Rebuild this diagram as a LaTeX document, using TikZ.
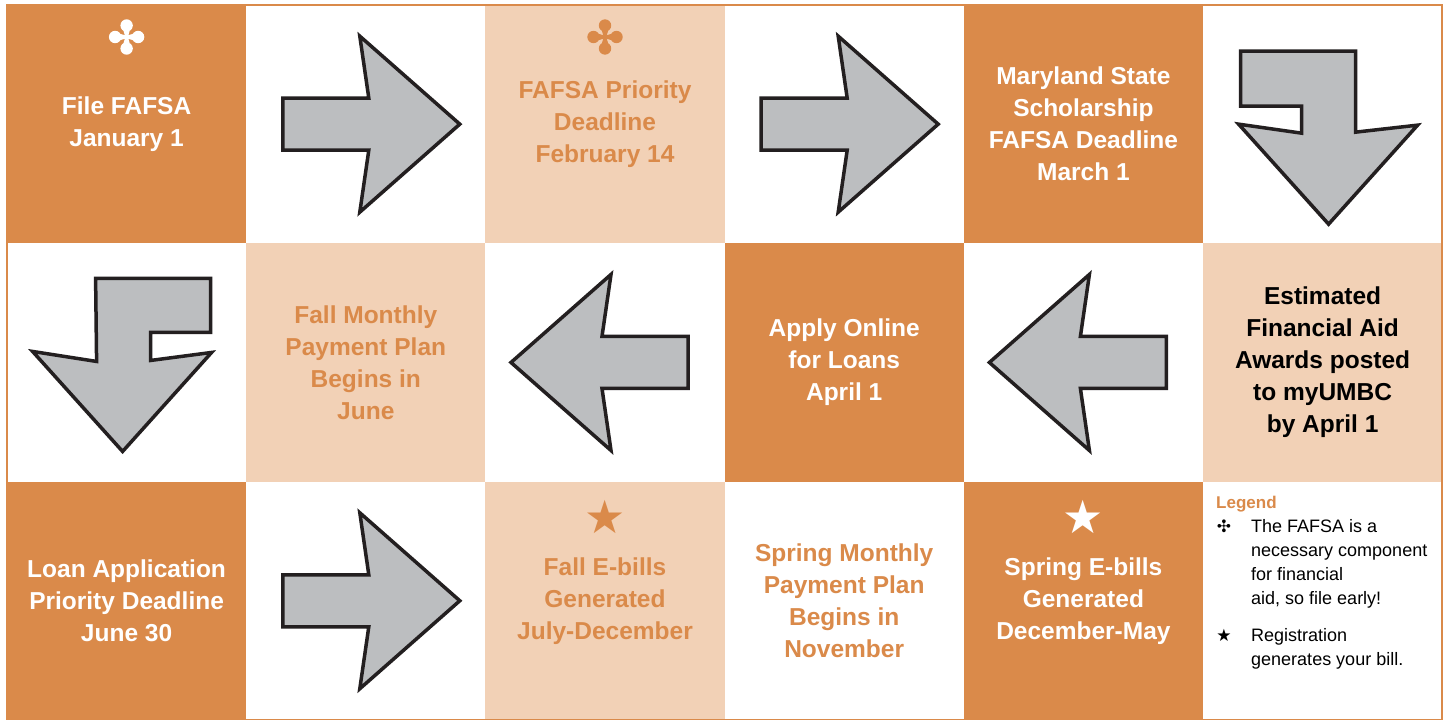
\documentclass[tikz,border=0pt]{standalone}
\usepackage{fontspec}
\setmainfont{Liberation Sans}
\newfontfamily\symfont{DejaVu Sans}
\usepackage{xcolor}
\usetikzlibrary{positioning}
\definecolor{umbcorange}{HTML}{DA8A4A}
\definecolor{umbcpeach}{HTML}{F2D1B6}
\definecolor{arrowgray}{HTML}{BCBEC0}
\definecolor{arrowline}{HTML}{231F20}
\tikzset{
  cell/.style={inner sep=0pt, outer sep=0pt, minimum width=239.2pt, minimum height=238.3pt, align=center, font=\fontsize{24.5}{32}\selectfont\bfseries},
  darkcell/.style={cell, fill=umbcorange, text=white},
  lightcell/.style={cell, fill=umbcpeach, text=umbcorange},
  blankcell/.style={cell, fill=white},
  icon/.style={font=\symfont\fontsize{46}{46}\selectfont, inner sep=0pt},
  blockarrow/.style={draw=arrowline, fill=arrowgray, line width=3.5pt, line join=miter},
  frame/.style={draw=umbcorange, line width=1.5pt},
  legendhead/.style={font=\fontsize{17}{20}\selectfont\bfseries, text=umbcorange, inner sep=0pt},
  legendtext/.style={font=\fontsize{18}{24}\selectfont, align=left, inner sep=0pt},
  legendmark/.style={font=\symfont\fontsize{17}{17}\selectfont, inner sep=0pt},
  clover/.pic={\foreach \a in {0,90,180,270}
      \fill[rotate=\a] (0,-1.3) -- (10,-4.2) -- (10,4.2) -- (0,1.3) -- cycle (11.5,0) circle (6.2);},
  goright/.pic={\path[blockarrow] (-83,-26) -- (3,-26) -- (-6,-88) -- (94,0) -- (-6,88) -- (3,26) -- (-83,26) -- cycle;},
  goleft/.pic={\path[blockarrow] (83,-26) -- (-3,-26) -- (6,-88) -- (-94,0) -- (6,88) -- (-3,26) -- (83,26) -- cycle;},
  turndown/.pic={\path[blockarrow] (-82,-73) -- (33,-73) -- (33,8) -- (95,1) -- (6,100) -- (-84,0) -- (-21,9) -- (-21,-18) -- (-82,-18) -- cycle;},
  dropdown/.pic={\path[blockarrow] (-31,-84) -- (84,-84) -- (84,-30) -- (24,-30) -- (24,-2) -- (85,-10) -- (-4,89) -- (-94,-11) -- (-30,-1) -- cycle;}
}

\begin{document}
\begin{tikzpicture}[x=1pt, y=-1pt, node distance=0pt]
    \useasboundingbox (0,0) rectangle (1444,720);
    % top row
    \node[darkcell, anchor=north west] (fafsa) at (7,5) {File FAFSA\\January 1};
    \node[blankcell, right=of fafsa] (go1) {};
    \node[lightcell, right=of go1] (priority) {FAFSA Priority\\Deadline\\February 14};
    \node[blankcell, right=of priority] (go2) {};
    \node[darkcell, right=of go2] (maryland) {Maryland State\\Scholarship\\FAFSA Deadline\\March 1};
    \node[blankcell, right=of maryland] (go3) {};
    % middle row, read right to left
    \node[blankcell, below=of fafsa] (go4) {};
    \node[lightcell, right=of go4] (fallplan) {Fall Monthly\\Payment Plan\\Begins in\\June};
    \node[blankcell, right=of fallplan] (go5) {};
    \node[darkcell, right=of go5] (loans) {Apply Online\\for Loans\\April 1};
    \node[blankcell, right=of loans] (go6) {};
    \node[lightcell, text=black, right=of go6] (awards) {Estimated\\Financial Aid\\Awards posted\\to myUMBC\\by April 1};
    % bottom row
    \node[darkcell, below=of go4] (loanapp) {Loan Application\\Priority Deadline\\June 30};
    \node[blankcell, right=of loanapp] (go7) {};
    \node[lightcell, right=of go7] (fallbills) {Fall E-bills\\Generated\\July-December};
    \node[blankcell, text=umbcorange, right=of fallbills] (springplan) {Spring Monthly\\Payment Plan\\Begins in\\November};
    \node[darkcell, right=of springplan] (springbills) {Spring E-bills\\Generated\\December-May};
    \node[blankcell, right=of springbills] (legendcell) {};

    \draw[frame] (fafsa.north west) rectangle (legendcell.south east);

    \pic at (go1.center) {goright};
    \pic at (go2.center) {goright};
    \pic at (go3.center) {turndown};
    \pic at (go6.center) {goleft};
    \pic at (go5.center) {goleft};
    \pic at (go4.center) {dropdown};
    \pic at (go7.center) {goright};

    \pic[white] (clover1) at ([yshift=-32pt]fafsa.north) {clover};
    \pic[umbcorange] (clover2) at ([yshift=-32pt]priority.north) {clover};
    \node[icon, text=umbcorange] (star1) at ([yshift=-35pt]fallbills.north) {★};
    \node[icon, text=white] (star2) at ([yshift=-35pt]springbills.north) {★};

    % legend
    \node[legendhead, anchor=north west] (legend) at ([xshift=13pt, yshift=-14pt]legendcell.north west) {Legend};
    \node[legendtext, anchor=north west] (note1) at ([xshift=48pt, yshift=-38pt]legendcell.north west) {The FAFSA is a\\necessary component\\for financial\\aid, so file early!};
    \node[legendtext, below=19pt of note1.south west, anchor=north west] (note2) {Registration\\generates your bill.};
    \node[legendmark] (mark1) at ([xshift=-27pt, yshift=-7pt]note1.north west) {✣};
    \node[legendmark] (mark2) at ([xshift=-27pt, yshift=-8pt]note2.north west) {★};
\end{tikzpicture}
\end{document}
